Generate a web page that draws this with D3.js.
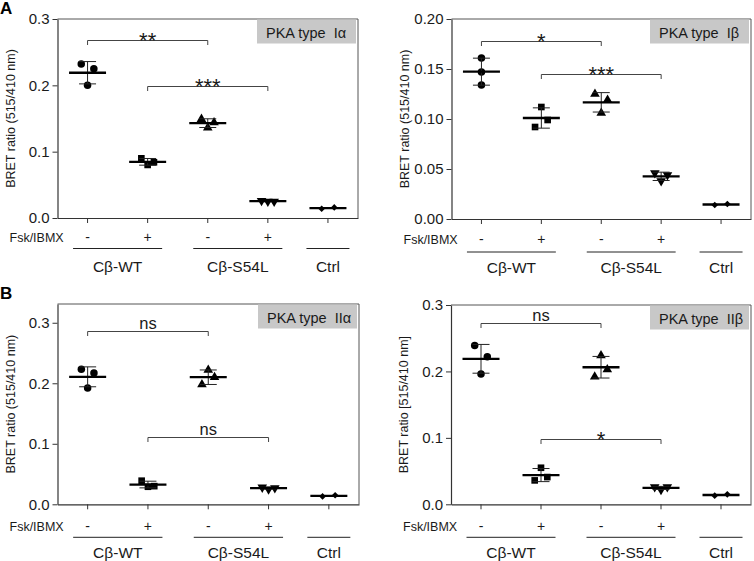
<!DOCTYPE html>
<html>
<head>
<meta charset="utf-8">
<script src="https://cdn.jsdelivr.net/npm/d3@7"></script>
<style>
  html, body { margin: 0; padding: 0; background: #fff; }
  svg { display: block; font-family: Arial, "Liberation Sans", sans-serif; }
</style>
</head>
<body>
<svg id="chart" width="754" height="561"></svg>
<script>
// ---------------- DATA ----------------
const conditions = ["WT-", "WT+", "S54L-", "S54L+", "Ctrl"];
const treatmentLabels = ["-", "+", "-", "+", ""];
const groupLabels = ["Cβ-WT", "Cβ-S54L", "Ctrl"];
const groupSpans = [[0, 1], [2, 3], [4, 4]];
const markerShapes = ["circle", "square", "triangleUp", "triangleDown", "diamond"];

// BRET ratios (515/410 nm), replicate values per condition
const typeIaValues = [[0.232, 0.225, 0.200], [0.090, 0.080, 0.084], [0.149, 0.136, 0.144], [0.026, 0.025, 0.025], [0.014, 0.016]];
const typeIbValues = [[0.161, 0.147, 0.134], [0.112, 0.099, 0.092], [0.125, 0.119, 0.106], [0.046, 0.044, 0.038], [0.014, 0.015]];
const typeIIaValues = [[0.223, 0.217, 0.192], [0.039, 0.029, 0.030], [0.222, 0.210, 0.198], [0.028, 0.025, 0.027], [0.013, 0.015]];
const typeIIbValues = [[0.239, 0.222, 0.196], [0.055, 0.041, 0.036], [0.224, 0.203, 0.192], [0.026, 0.022, 0.026], [0.013, 0.015]];

// horizontal scatter slot of each replicate (-1 left, 0 centre, 1 right)
const typeIaSlots = [[-1, 1, 0], [-1, 0, 1], [-1, 0, 1], [-1, 0, 1], [-1, 1]];
const typeIbSlots = [[0, 0, 0], [0, 1, -1], [-1, 1, 0], [-1, 1, 0], [-1, 1]];
const typeIIaSlots = [[-1, 1, 0], [-1, 0, 1], [0, 1, -1], [-1, 0, 1], [-1, 1]];
const typeIIbSlots = [[-1, 1, 0], [0, 1, -1], [0, 1, -1], [-1, 0, 1], [-1, 1]];

// y-axis ticks
const ticksIa = [0, 0.1, 0.2, 0.3];
const ticksIb = [0, 0.05, 0.10, 0.15, 0.20];
const ticksIIa = [0, 0.1, 0.2, 0.3];
const ticksIIb = [0, 0.1, 0.2, 0.3];

// significance brackets: [from, to, label, level]
const sigIa = [[0, 2, "**", 0.268], [1, 3, "***", 0.199]];
const sigIb = [[0, 2, "*", 0.178], [1, 3, "***", 0.145]];
const sigIIa = [[0, 2, "ns", 0.287], [1, 3, "ns", 0.112]];
const sigIIb = [[0, 2, "ns", 0.273], [1, 3, "*", 0.099]];

// ---------------- LAYOUT ----------------
const panels = [
  { title: "PKA type  Iα", values: typeIaValues, slots: typeIaSlots, ticks: ticksIa, fmt: ".1f", ymax: 0.3,
    sig: sigIa, ylabel: "BRET ratio (515/410 nm)", left: 57.5, right: 358, top: 19, bottom: 218,
    fskDy: 24, lineDy: 30.5, groupDy: 54, letter: "A" },
  { title: "PKA type  Iβ", values: typeIbValues, slots: typeIbSlots, ticks: ticksIb, fmt: ".2f", ymax: 0.2,
    sig: sigIb, ylabel: "BRET ratio (515/410 nm)", left: 451.5, right: 751, top: 19, bottom: 219,
    fskDy: 25, lineDy: 33, groupDy: 53.5 },
  { title: "PKA type  IIα", values: typeIIaValues, slots: typeIIaSlots, ticks: ticksIIa, fmt: ".1f", ymax: 0.331,
    sig: sigIIa, ylabel: "BRET ratio (515/410 nm)", left: 57.5, right: 359, top: 304, bottom: 504.3,
    fskDy: 26.5, lineDy: 33, groupDy: 53.7, letter: "B" },
  { title: "PKA type  IIβ", values: typeIIbValues, slots: typeIIbSlots, ticks: ticksIIb, fmt: ".1f", ymax: 0.3,
    sig: sigIIb, ylabel: "BRET ratio [515/410 nm]", left: 451, right: 751, top: 305, bottom: 504.3,
    fskDy: 26.5, lineDy: 33, groupDy: 53.7 }
];

const svg = d3.select("#chart");
const axisColor = "#333";
const textColor = "#1a1a1a";

function symbolPath(shape) {
  if (shape === "circle") return d3.symbol(d3.symbolCircle, 44)();
  if (shape === "square") return d3.symbol(d3.symbolSquare, 44)();
  if (shape === "triangleUp" || shape === "triangleDown") return d3.symbol(d3.symbolTriangle, 40)();
  return d3.symbol(d3.symbolSquare, 22)();
}
function symbolRotate(shape) {
  if (shape === "triangleDown") return 180;
  if (shape === "diamond") return 45;
  return 0;
}

panels.forEach(p => {
  const g = svg.append("g");
  const x = d3.scaleBand().domain(conditions).range([p.left, p.right]).padding(0);
  const y = d3.scaleLinear().domain([0, p.ymax]).range([p.bottom, p.top]);
  const cx = i => x(conditions[i]) + x.bandwidth() / 2;

  // frame (top & right)
  g.append("path")
    .attr("d", `M${p.left},${p.top}H${p.right}V${p.bottom}`)
    .attr("fill", "none").attr("stroke", "#555").attr("stroke-width", 1);

  // grey title box
  g.append("rect").attr("x", p.right - 101).attr("y", p.top + 0.5).attr("width", 99).attr("height", 24)
    .attr("fill", "#c8c8c8");
  g.append("text").attr("x", p.right - 92).attr("y", p.top + 19).attr("font-size", 14.5)
    .attr("fill", textColor).attr("xml:space", "preserve").style("white-space", "pre").text(p.title);

  // y axis
  const yAxis = d3.axisLeft(y).tickValues(p.ticks).tickFormat(d3.format(p.fmt)).tickSizeInner(5).tickSizeOuter(0).tickPadding(3);
  const ya = g.append("g").attr("transform", `translate(${p.left},0)`).call(yAxis);
  ya.select(".domain").attr("stroke", axisColor).attr("stroke-width", 1.2);
  ya.selectAll(".tick line").attr("stroke", axisColor);
  ya.selectAll(".tick text").attr("font-size", 15).attr("fill", textColor).attr("font-family", "Arial, 'Liberation Sans', sans-serif");

  // x axis
  const xAxis = d3.axisBottom(x).tickFormat("").tickSizeInner(5).tickSizeOuter(0);
  const xa = g.append("g").attr("transform", `translate(0,${p.bottom})`).call(xAxis);
  xa.select(".domain").attr("stroke", axisColor).attr("stroke-width", 1.2);
  xa.selectAll(".tick line").attr("stroke", axisColor);

  // y label
  g.append("text")
    .attr("transform", `translate(${p.left - 43},${(p.top + p.bottom) / 2}) rotate(-90)`)
    .attr("text-anchor", "middle").attr("font-size", 12.5).attr("fill", textColor).text(p.ylabel);

  // Fsk/IBMX row
  g.append("text").attr("x", p.left - 48).attr("y", p.bottom + p.fskDy)
    .attr("font-size", 12.5).attr("fill", textColor).text("Fsk/IBMX");
  treatmentLabels.forEach((t, i) => {
    if (!t) return;
    g.append("text").attr("x", cx(i)).attr("y", p.bottom + p.fskDy).attr("text-anchor", "middle")
      .attr("font-size", 14).attr("fill", textColor).text(t);
  });

  // group underline and labels
  groupSpans.forEach((s, k) => {
    const ext = s[0] === s[1] ? 21.5 : 14.5;
    const x0 = cx(s[0]) - ext, x1 = cx(s[1]) + ext;
    g.append("line").attr("x1", x0).attr("x2", x1).attr("y1", p.bottom + p.lineDy).attr("y2", p.bottom + p.lineDy)
      .attr("stroke", "#222").attr("stroke-width", 1);
    g.append("text").attr("x", (x0 + x1) / 2).attr("y", p.bottom + p.groupDy).attr("text-anchor", "middle")
      .attr("font-size", 15.5).attr("fill", textColor).text(groupLabels[k]);
  });

  // significance brackets
  p.sig.forEach(([a, b, lab, lev]) => {
    const yy = Math.round(y(lev)) + 0.5;
    g.append("path").attr("d", `M${cx(a)},${yy + 4.5}V${yy}H${cx(b)}V${yy + 4.5}`)
      .attr("fill", "none").attr("stroke", "#444").attr("stroke-width", 1);
    const isStar = lab.indexOf("*") >= 0;
    g.append("text").attr("x", (cx(a) + cx(b)) / 2).attr("y", isStar ? yy + 7 : yy - 2.5)
      .attr("text-anchor", "middle").attr("font-size", isStar ? 22 : 16.5).attr("fill", textColor)
      .text(lab);
  });

  // data: points, mean and SD
  p.values.forEach((vals, i) => {
    const c = cx(i);
    const m = d3.mean(vals);
    const sd = vals.length > 2 ? d3.deviation(vals) : 0;
    const shape = markerShapes[i];
    vals.forEach((v, j) => {
      g.append("path").attr("d", symbolPath(shape))
        .attr("transform", `translate(${c + p.slots[i][j] * 6.3},${y(v)}) rotate(${symbolRotate(shape)})`)
        .attr("fill", "#000");
    });
    if (sd > 0) {
      g.append("line").attr("x1", c).attr("x2", c).attr("y1", y(m + sd)).attr("y2", y(m - sd))
        .attr("stroke", "#222").attr("stroke-width", 1);
      [m + sd, m - sd].forEach(v => {
        g.append("line").attr("x1", c - 8.5).attr("x2", c + 8.5).attr("y1", y(v)).attr("y2", y(v))
          .attr("stroke", "#222").attr("stroke-width", 1);
      });
    }
    g.append("line").attr("x1", c - 18.5).attr("x2", c + 18.5).attr("y1", y(m)).attr("y2", y(m))
      .attr("stroke", "#000").attr("stroke-width", 2.3);
  });

  if (p.letter) {
    svg.append("text").attr("x", 0).attr("y", p.top - 5.5).attr("font-size", 17).attr("font-weight", "bold")
      .attr("fill", "#000").text(p.letter);
  }
});
</script>
</body>
</html>
